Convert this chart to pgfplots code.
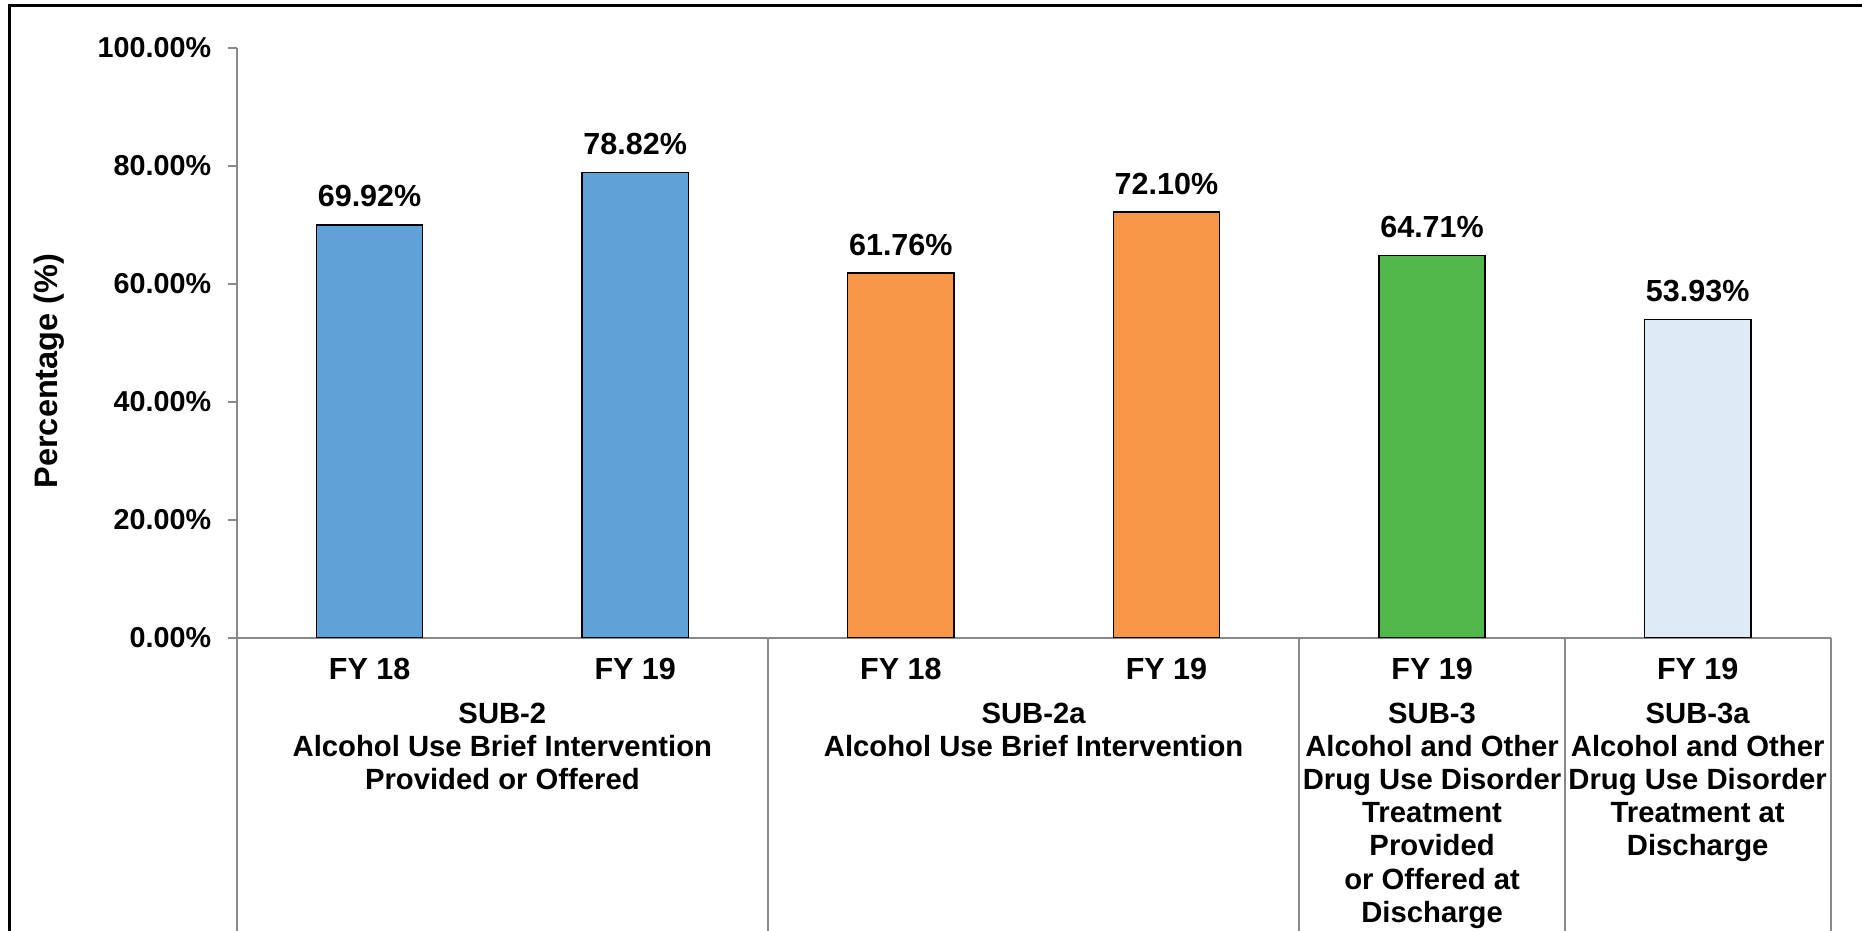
\documentclass[border=0pt]{standalone}
\usepackage{pgfplots}
\pgfplotsset{compat=1.18}
\usepackage{fontspec}
\setmainfont{Liberation Sans}

\definecolor{barblue}{RGB}{95,162,215}
\definecolor{barorange}{RGB}{247,150,70}
\definecolor{bargreen}{RGB}{80,184,74}
\definecolor{barlight}{RGB}{222,234,246}
\definecolor{axisgray}{RGB}{137,137,137}

\newcommand{\chartfont}{\fontsize{11.5}{13.2}\selectfont\bfseries}
\newcommand{\groupfont}{\fontsize{11.7}{13.25}\selectfont\bfseries}
\newcommand{\labelfont}{\fontsize{12.2}{14}\selectfont\bfseries}

\pgfplotsset{
  valbar/.style={
    ybar, bar width=0.4, bar shift=0pt,
    draw=black, line width=0.6pt,
    nodes near coords={\pgfmathprintnumber[fixed,fixed zerofill,precision=2,assume math mode=true]{\pgfplotspointmeta}\%},
    nodes near coords style={font=\labelfont, text=black, anchor=south, inner sep=0pt, yshift=6.8pt},
  }
}

\begin{document}
\begin{tikzpicture}
\useasboundingbox (0,0) rectangle (744.8pt,-372.4pt);
% outer frame
\draw[black, line width=1pt] (3.8pt,-380pt) -- (3.8pt,-2.2pt) -- (760pt,-2.2pt);

\begin{axis}[
  at={(94.7pt,-255pt)}, anchor=south west,
  scale only axis, width=637.5pt, height=236pt,
  xmin=-0.5, xmax=5.5, ymin=0, ymax=100,
  axis lines*=left,
  axis line style={draw=axisgray, line width=0.8pt},
  clip=false,
  xtick={0,1,2,3,4,5},
  xticklabels={FY 18, FY 19, FY 18, FY 19, FY 19, FY 19},
  x tick style={draw=none},
  xticklabel style={font=\labelfont, anchor=north, inner sep=0pt, yshift=-4.4pt},
  ytick={0,20,40,60,80,100},
  yticklabels={0.00\%,20.00\%,40.00\%,60.00\%,80.00\%,100.00\%},
  y tick style={draw=axisgray, line width=0.8pt},
  tick align=outside, major tick length=3.5pt,
  yticklabel style={font=\chartfont, anchor=east, inner sep=0pt, xshift=-6.5pt},
]
\addplot[valbar, fill=barblue] coordinates {(0,69.92) (1,78.82)};
\addplot[valbar, fill=barorange] coordinates {(2,61.76) (3,72.10)};
\addplot[valbar, fill=bargreen] coordinates {(4,64.71)};
\addplot[valbar, fill=barlight] coordinates {(5,53.93)};

% category group dividers below the axis
\pgfplotsinvokeforeach{-0.5,1.5,3.5,4.5,5.5}{
  \draw[axisgray, line width=0.8pt] (axis cs:#1,0) -- ++(0pt,-125pt);
}

% group captions
\node[font=\groupfont, align=center, anchor=north, inner sep=0pt, yshift=-26pt] at (axis cs:0.5,0)
  {SUB-2\\Alcohol Use Brief Intervention\\Provided or Offered};
\node[font=\groupfont, align=center, anchor=north, inner sep=0pt, yshift=-26pt] at (axis cs:2.5,0)
  {SUB-2a\\Alcohol Use Brief Intervention};
\node[font=\groupfont, align=center, anchor=north, inner sep=0pt, yshift=-26pt] at (axis cs:4,0)
  {SUB-3\\Alcohol and Other\\Drug Use Disorder\\Treatment\\Provided\\or Offered at\\Discharge};
\node[font=\groupfont, align=center, anchor=north, inner sep=0pt, yshift=-26pt] at (axis cs:5,0)
  {SUB-3a\\Alcohol and Other\\Drug Use Disorder\\Treatment at\\Discharge};
\end{axis}

% y axis title
\node[font=\fontsize{13}{15}\selectfont\bfseries, rotate=90, anchor=base] at (23pt,-148.4pt) {Percentage (\%)};
\end{tikzpicture}
\end{document}
